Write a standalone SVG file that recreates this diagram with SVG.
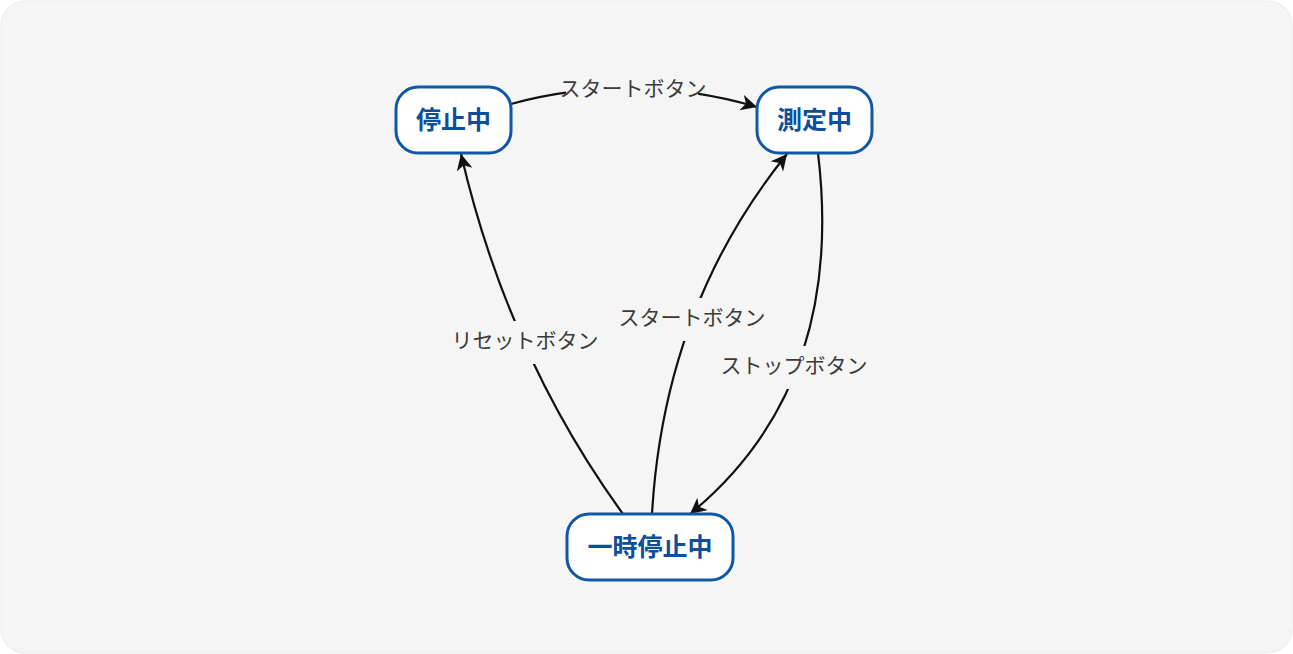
<svg xmlns="http://www.w3.org/2000/svg" width="1293" height="654" viewBox="0 0 1293 654">
<style>
.node rect{fill:#ffffff;stroke:#0f58a6;stroke-width:3}
.node text{font-family:"Noto Sans CJK JP","Noto Sans",sans-serif;font-size:25px;font-weight:bold;fill:#0d4f9c;text-anchor:middle;dominant-baseline:central}
.edge{fill:none;stroke:#111111;stroke-width:2.2;marker-end:url(#arr)}
.lbg{fill:#f5f5f5}
.lbl{font-family:"Noto Sans CJK JP","Noto Sans",sans-serif;font-size:21px;fill:#3a3a3a;text-anchor:middle;dominant-baseline:central}
</style>
<defs>
<marker id="arr" markerUnits="userSpaceOnUse" markerWidth="18" markerHeight="18" refX="16" refY="8" orient="auto">
<path d="M0,0 L16,8 L0,16 L4.5,8 z" fill="#111111"/>
</marker>
</defs>
<rect x="0" y="0" width="1293" height="654" fill="#ffffff"/>
<rect x="1" y="1" width="1291" height="652" rx="24" ry="24" fill="#f5f5f5" stroke="#ebebeb" stroke-width="1"/>
<g id="connectors">
<path class="edge" d="M511,104 Q632,71 757,107"/>
<path class="edge" d="M623,514 Q508,356 461,154"/>
<path class="edge" d="M652,514 Q664,306 787,154"/>
<path class="edge" d="M818,153 Q846,386 690,514"/>
<rect class="lbg" x="566" y="76" width="132" height="20"/>
<text class="lbl" x="633" y="87">スタートボタン</text>
<rect class="lbg" x="450" y="321" width="150" height="43"/>
<text class="lbl" x="525" y="339">リセットボタン</text>
<rect class="lbg" x="616" y="298" width="152" height="43"/>
<text class="lbl" x="692" y="316">スタートボタン</text>
<rect class="lbg" x="718" y="346" width="152" height="43"/>
<text class="lbl" x="794" y="364">ストップボタン</text>
</g>
<g id="node-stopped" class="node">
<rect x="396" y="87" width="115" height="66" rx="22" ry="22"/>
<text x="453.5" y="118">停止中</text>
</g>
<g id="node-measuring" class="node">
<rect x="757" y="87" width="115" height="66" rx="22" ry="22"/>
<text x="814.5" y="118">測定中</text>
</g>
<g id="node-paused" class="node">
<rect x="567" y="514" width="166" height="66" rx="22" ry="22"/>
<text x="650" y="545">一時停止中</text>
</g>
</svg>
